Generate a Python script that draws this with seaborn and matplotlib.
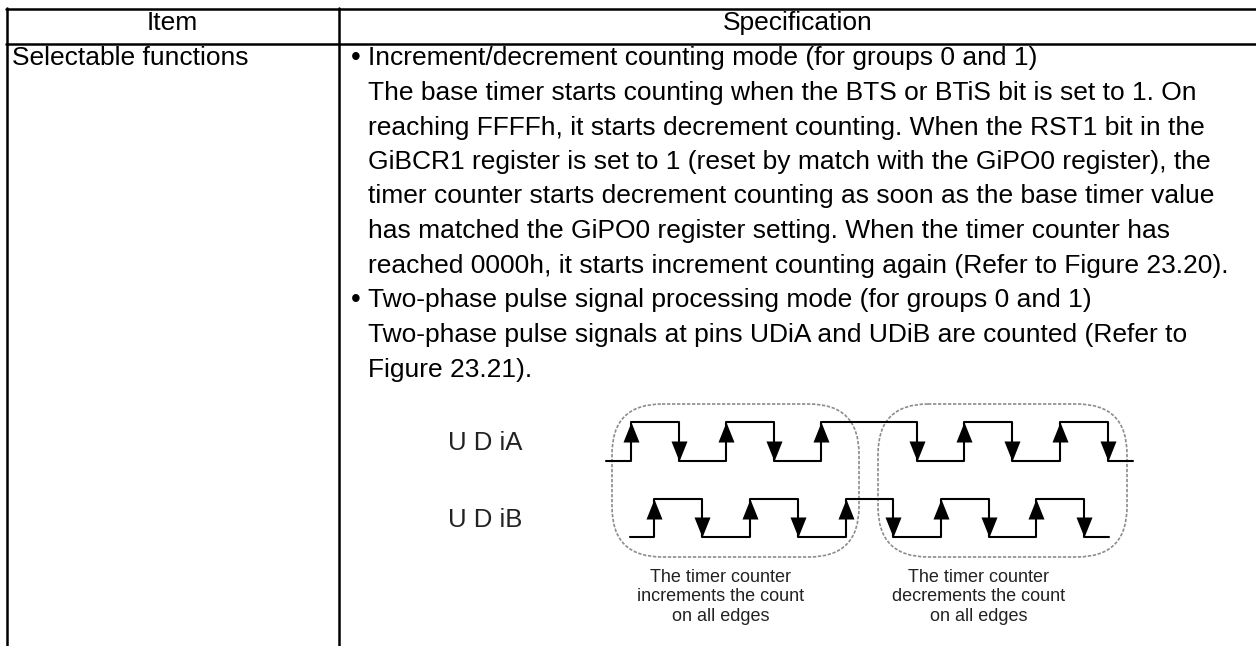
import matplotlib
matplotlib.use("Agg")
import matplotlib.pyplot as plt
import pandas as pd
import seaborn as sns
from matplotlib.patches import FancyBboxPatch

# table text
header_item = "Item"
header_spec = "Specification"
item_name = "Selectable functions"
body_lines = [
    "Increment/decrement counting mode (for groups 0 and 1)",
    "The base timer starts counting when the BTS or BTiS bit is set to 1. On",
    "reaching FFFFh, it starts decrement counting. When the RST1 bit in the",
    "GiBCR1 register is set to 1 (reset by match with the GiPO0 register), the",
    "timer counter starts decrement counting as soon as the base timer value",
    "has matched the GiPO0 register setting. When the timer counter has",
    "reached 0000h, it starts increment counting again (Refer to Figure 23.20).",
    "Two-phase pulse signal processing mode (for groups 0 and 1)",
    "Two-phase pulse signals at pins UDiA and UDiB are counted (Refer to",
    "Figure 23.21).",
]
body_y = [65, 100, 135, 169, 203, 238, 273, 307, 342, 377]

udia_x = [606, 631, 679, 726, 774, 821, 917, 964, 1012, 1060, 1108, 1133]
udia_y = [461, 422, 461, 422, 461, 422, 461, 422, 461, 422, 461, 461]
udib_x = [630, 654, 702, 750, 798, 846, 893, 941, 989, 1036, 1084, 1109]
udib_y = [537, 499, 537, 499, 537, 499, 537, 499, 537, 499, 537, 537]

caption_left = ["The timer counter", "increments the count", "on all edges"]
caption_right = ["The timer counter", "decrements the count", "on all edges"]
caption_y = [582, 601, 621]

sns.set_theme(style="white")
plt.rcParams["font.family"] = ["Liberation Sans", "DejaVu Sans"]

fig = plt.figure(figsize=(12.56, 6.46), dpi=100)
ax = fig.add_axes([0, 0, 1, 1])

# table rules, no right border in the crop
for x in [7, 339]:
    ax.plot([x, x], [8, 646], color="black", lw=1.8)
for y in [8.5, 44]:
    ax.plot([6, 1256], [y, y], color="black", lw=1.8)

ax.text(172.5, 30, header_item, ha="center", va="baseline", fontsize=19, color="black")
ax.text(798, 30, header_spec, ha="center", va="baseline", fontsize=19, color="black")
ax.text(12, 65, item_name, ha="left", va="baseline", fontsize=19, color="black")

for line, y in zip(body_lines, body_y):
    ax.text(368, y, line, ha="left", va="baseline", fontsize=19, color="black")
for y in [body_y[0], body_y[7]]:
    ax.text(356, y, "•", ha="center", va="baseline", fontsize=20, color="black")

# rounded dashed outlines
for x0, x1 in [(612, 859), (878, 1127)]:
    ax.add_patch(FancyBboxPatch((x0 + 50, 404 + 50), x1 - x0 - 100, 153 - 100,
                                boxstyle="round,pad=50,rounding_size=50",
                                fill=False, ec="#8c8c8c", ls=(0, (2, 1)), lw=1.2))

up_marker = [(0, 0), (-8, -20), (8, -20)]
down_marker = [(0, 0), (-8, 20), (8, 20)]
for xs, ys in [(udia_x, udia_y), (udib_x, udib_y)]:
    wave = pd.DataFrame({"x": xs, "y": ys})
    sns.lineplot(data=wave, x="x", y="y", ax=ax, color="black", lw=1.5,
                 drawstyle="steps-post", sort=False, errorbar=None, estimator=None)
    top = min(ys)
    rises = wave[wave["y"] == top]
    falls = wave[wave["y"] != top].iloc[:-1]
    falls = falls[falls["x"] != xs[0]]
    sns.scatterplot(data=rises, x="x", y="y", ax=ax, color="black",
                    marker=up_marker, s=830, linewidth=0)
    sns.scatterplot(data=falls, x="x", y="y", ax=ax, color="black",
                    marker=down_marker, s=830, linewidth=0)

ax.text(448, 450, "U D iA", ha="left", va="baseline", fontsize=18.5, color="#222222")
ax.text(448, 527, "U D iB", ha="left", va="baseline", fontsize=18.5, color="#222222")

for cx, lines in [(721, caption_left), (979, caption_right)]:
    for line, y in zip(lines, caption_y):
        ax.text(cx, y, line, ha="center", va="baseline", fontsize=13, color="#222222")

ax.set_xlim(0, 1256)
ax.set_ylim(646, 0)
ax.axis("off")
fig.savefig("out.png", dpi=100)
